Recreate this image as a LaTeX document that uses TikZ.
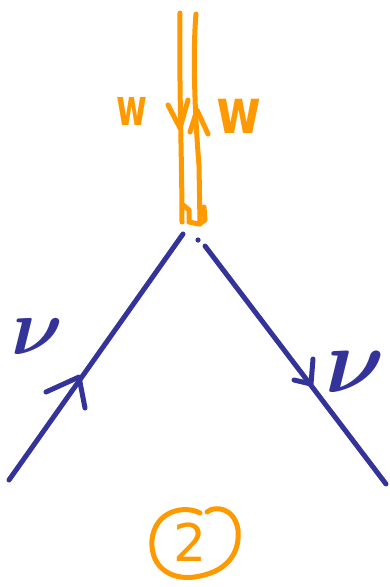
\documentclass[tikz,border=0pt]{standalone}
\usepackage{bm}
\usepackage{fontspec}
\setmainfont{DejaVu Sans}
\definecolor{pen}{RGB}{255,153,0}
\definecolor{ink}{RGB}{51,51,153}
\tikzset{
  orangestroke/.style={draw=pen,line width=5pt,line cap=round,line join=round},
  bluestroke/.style={draw=ink,line width=5pt,line cap=round,line join=round},
  wlabel/.style={text=pen,font=\bfseries\fontsize{38}{38}\selectfont,inner sep=0pt},
  vlabel/.style={text=ink,inner sep=0pt,scale=8},
}
\begin{document}
\begin{tikzpicture}[x=1pt,y=-1pt]
\useasboundingbox (0,0) rectangle (390,587);
% orange W lines
\coordinate (l1) at (180,13);
\coordinate (l2) at (182,222);
\coordinate (r1) at (196,14);
\coordinate (r2) at (200,224);
\draw[orangestroke] (l1) .. controls (179,90) and (182,160) .. (l2);
\draw[orangestroke] (r1) .. controls (192,60) and (196,130) .. (199,165) -- (r2);
\draw[orangestroke] (183,205) -- (189,210) -- (189,222) -- (199,224) -- (205,220) -- (204,207);
% arrowheads on orange lines
\coordinate (da) at (180,128);
\draw[orangestroke] (168,105) -- (da) -- (188,100);
\coordinate (ua) at (197,110);
\draw[orangestroke] (190,132) -- (ua) -- (208,134);
% labels w
\node[wlabel,xscale=0.88,yscale=1.35] (wl) at (132,111) {w};
\node[wlabel,xscale=1.28,yscale=1.65] (wr) at (239,116) {w};
% blue lines
\coordinate (b1) at (183,234);
\coordinate (b2) at (9,480);
\coordinate (c1) at (205,246);
\coordinate (c2) at (386,484);
\draw[bluestroke] (b1) -- (b2);
\draw[bluestroke] (c1) -- (c2);
\fill[ink] (198,240) circle (2.6pt);
% blue arrowheads
\coordinate (la) at (79,377);
\draw[bluestroke] (46,392) -- (la) -- (85,408);
\coordinate (ra) at (311,384);
\draw[bluestroke] (294,380) -- (ra) -- (313,359);
% labels nu
\node[vlabel] (vl) at (37,337) {$\bm\nu$};
\node[vlabel,scale=1.15] (vr) at (355,372) {$\bm\nu$};
% circled 2
\node[text=pen,font=\fontsize{52}{52}\selectfont,inner sep=0pt] (two) at (190,542) {2};
\draw[orangestroke] (200,513) .. controls (185,505) and (155,510) .. (152,540)
  .. controls (150,570) and (175,582) .. (200,576)
  .. controls (230,570) and (240,550) .. (238,530)
  .. controls (235,508) and (215,505) .. (207,512);
\end{tikzpicture}
\end{document}
